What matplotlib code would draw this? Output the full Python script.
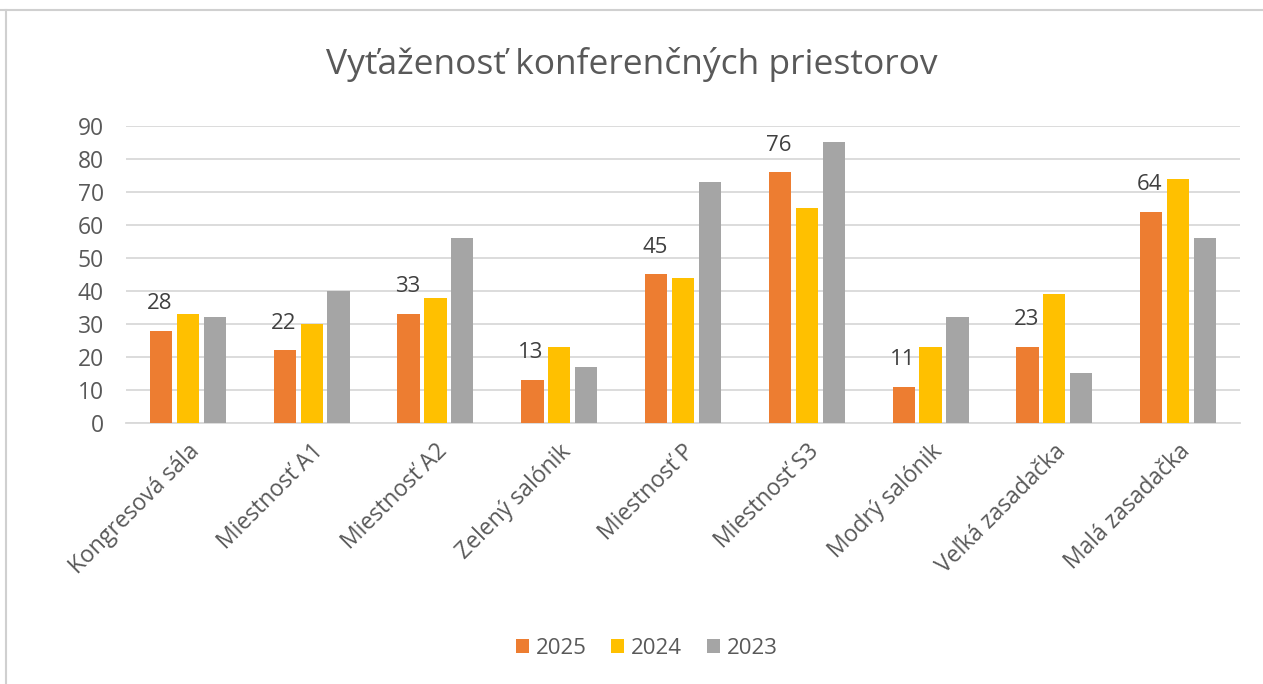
import matplotlib
matplotlib.use("Agg")
import matplotlib.pyplot as plt
import numpy as np
from matplotlib.lines import Line2D

# data
rooms = ["Kongresová sála", "Miestnosť A1", "Miestnosť A2", "Zelený salónik",
         "Miestnosť P", "Miestnosť S3", "Modrý salónik", "Veľká zasadačka",
         "Malá zasadačka"]
years = ["2025", "2024", "2023"]
v2025 = [28, 22, 33, 13, 45, 76, 11, 23, 64]
v2024 = [33, 30, 38, 23, 44, 65, 23, 39, 74]
v2023 = [32, 40, 56, 17, 73, 85, 32, 15, 56]
yticks = [0, 10, 20, 30, 40, 50, 60, 70, 80, 90]

colors = ["#ED7D31", "#FFC000", "#A5A5A5"]
txt = "#595959"
grid = "#D9D9D9"

plt.rcParams['font.family'] = ['Open Sans', 'DejaVu Sans']

fig = plt.figure(figsize=(12.63, 6.84), dpi=100)
ax = fig.add_axes([0.0998, 0.3816, 0.8820, 0.4342])

x = np.arange(len(rooms))
w = 0.18
step = 0.217
series = [v2025, v2024, v2023]
for i, vals in enumerate(series):
    ax.bar(x + (i - 1) * step, vals, width=w, color=colors[i], label=years[i], zorder=3)

# labels only on the 2025 series
for xi, v in zip(x, v2025):
    ax.annotate(str(v), (xi - step, v), xytext=(-1, 12), textcoords="offset points",
                ha="center", va="bottom", fontsize=16, color="#404040")

ax.set_xlim(-0.5, len(rooms) - 0.5)
ax.set_ylim(0, 90)
ax.set_yticks(yticks)
ax.yaxis.grid(True, color=grid, linewidth=1.3, zorder=0)
ax.set_axisbelow(True)
for s in ["top", "right", "left"]:
    ax.spines[s].set_visible(False)
ax.spines["bottom"].set_color(grid)
ax.spines["bottom"].set_linewidth(1.3)
ax.tick_params(axis="both", length=0, colors=txt, labelsize=16.5)
ax.tick_params(axis="y", pad=16)
ax.set_xticks(x)
ax.set_xticklabels(rooms, rotation=45, ha="right", rotation_mode="anchor")
ax.tick_params(axis="x", pad=12)

fig.suptitle("Vyťaženosť konferenčných priestorov", x=0.5, y=0.932, fontsize=25.5, color=txt)

ax.legend(loc="center", bbox_to_anchor=(0.512, 0.052), bbox_transform=fig.transFigure,
          ncol=3, frameon=False, fontsize=16, labelcolor=txt,
          handlelength=0.6, handleheight=0.6, handletextpad=0.3, columnspacing=1.1)

# chart border (top and left visible)
fig.add_artist(Line2D([0, 1], [0.985, 0.985], color="#D0D0D0", linewidth=1.5))
fig.add_artist(Line2D([0.005, 0.005], [0, 0.985], color="#D0D0D0", linewidth=1.5))

fig.savefig("out.png", dpi=100)
